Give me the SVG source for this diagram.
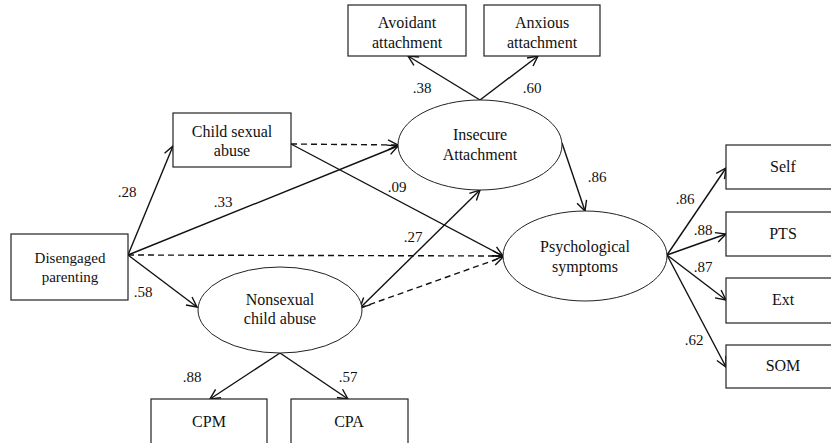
<svg xmlns="http://www.w3.org/2000/svg" width="831" height="443" viewBox="0 0 831 443">
<style>
text{font-size:16px;fill:#111;text-anchor:middle;font-family:"Liberation Serif","Times New Roman",serif}
.lbl{font-size:15px}
.box{fill:#fff;stroke:#222;stroke-width:1.2}
.ell{fill:#fff;stroke:#222;stroke-width:1}
.c{stroke:#111;stroke-width:1.4;fill:none;marker-end:url(#ah)}
.d{stroke-dasharray:6 4}
.dbl{marker-start:url(#ahs)}
</style>
<defs>
<marker id="ah" markerUnits="userSpaceOnUse" markerWidth="14" markerHeight="14" refX="11" refY="6" orient="auto">
<path d="M1,1 L11,6 L1,11" fill="none" stroke="#111" stroke-width="1.4"/>
</marker>
<marker id="ahs" markerUnits="userSpaceOnUse" markerWidth="14" markerHeight="14" refX="1" refY="6" orient="auto">
<path d="M11,1 L1,6 L11,11" fill="none" stroke="#111" stroke-width="1.4"/>
</marker>
</defs>
<rect width="831" height="443" fill="#fff"/>
<g id="connectors">
<line class="c" x1="480" y1="100" x2="408" y2="56"/>
<line class="c" x1="480" y1="100" x2="538" y2="56"/>
<line class="c" x1="128" y1="255" x2="173" y2="146"/>
<line class="c" x1="128" y1="255" x2="398" y2="146"/>
<line class="c d" x1="128" y1="255" x2="503" y2="256"/>
<line class="c" x1="128" y1="255" x2="197" y2="307"/>
<line class="c d" x1="291" y1="144" x2="398" y2="145"/>
<line class="c" x1="291" y1="144" x2="503" y2="256"/>
<line class="c dbl" x1="360" y1="308" x2="480" y2="190"/>
<line class="c d" x1="360" y1="308" x2="503" y2="257"/>
<line class="c" x1="562" y1="143" x2="585" y2="211"/>
<line class="c" x1="667" y1="255" x2="726" y2="168"/>
<line class="c" x1="667" y1="255" x2="726" y2="234"/>
<line class="c" x1="667" y1="255" x2="726" y2="300"/>
<line class="c" x1="667" y1="255" x2="726" y2="367"/>
<line class="c" x1="280" y1="353" x2="210" y2="399"/>
<line class="c" x1="280" y1="353" x2="348" y2="399"/>
</g>
<g id="labels">
<text class="lbl" x="422" y="93">.38</text>
<text class="lbl" x="532" y="93">.60</text>
<text class="lbl" x="127" y="197">.28</text>
<text class="lbl" x="223" y="207">.33</text>
<text class="lbl" x="143" y="297">.58</text>
<text class="lbl" x="397" y="192">.09</text>
<text class="lbl" x="413" y="242">.27</text>
<text class="lbl" x="597" y="182">.86</text>
<text class="lbl" x="685" y="204">.86</text>
<text class="lbl" x="703" y="235">.88</text>
<text class="lbl" x="703" y="272">.87</text>
<text class="lbl" x="694" y="345">.62</text>
<text class="lbl" x="192" y="382">.88</text>
<text class="lbl" x="348" y="382">.57</text>
</g>
<g id="avoidant"><rect class="box" x="348" y="5" width="118" height="51"/><text x="407" y="28">Avoidant</text><text x="407" y="48">attachment</text></g>
<g id="anxious"><rect class="box" x="484" y="5" width="116" height="51"/><text x="542" y="28">Anxious</text><text x="542" y="48">attachment</text></g>
<g id="insecure"><ellipse class="ell" cx="480" cy="145" rx="82" ry="45"/><text x="480" y="140">Insecure</text><text x="480" y="160">Attachment</text></g>
<g id="csa"><rect class="box" x="173" y="113" width="118" height="54"/><text x="232" y="137">Child sexual</text><text x="232" y="156">abuse</text></g>
<g id="disengaged"><rect class="box" x="11" y="234" width="117" height="66"/><text x="70" y="263" style="font-size:15px">Disengaged</text><text x="70" y="282" style="font-size:15px">parenting</text></g>
<g id="nonsexual"><ellipse class="ell" cx="280" cy="310" rx="82" ry="43"/><text x="280" y="305">Nonsexual</text><text x="280" y="324">child abuse</text></g>
<g id="psych"><ellipse class="ell" cx="585" cy="256" rx="82" ry="45"/><text x="585" y="252">Psychological</text><text x="585" y="272">symptoms</text></g>
<g id="cpm"><rect class="box" x="151" y="399" width="116" height="52"/><text x="209" y="427">CPM</text></g>
<g id="cpa"><rect class="box" x="291" y="399" width="117" height="52"/><text x="349" y="427">CPA</text></g>
<g id="self"><rect class="box" x="726" y="145" width="114" height="44"/><text x="783" y="172">Self</text></g>
<g id="pts"><rect class="box" x="726" y="212" width="114" height="44"/><text x="783" y="239">PTS</text></g>
<g id="ext"><rect class="box" x="726" y="278" width="114" height="45"/><text x="783" y="305">Ext</text></g>
<g id="som"><rect class="box" x="726" y="345" width="114" height="43"/><text x="783" y="371">SOM</text></g>
</svg>
